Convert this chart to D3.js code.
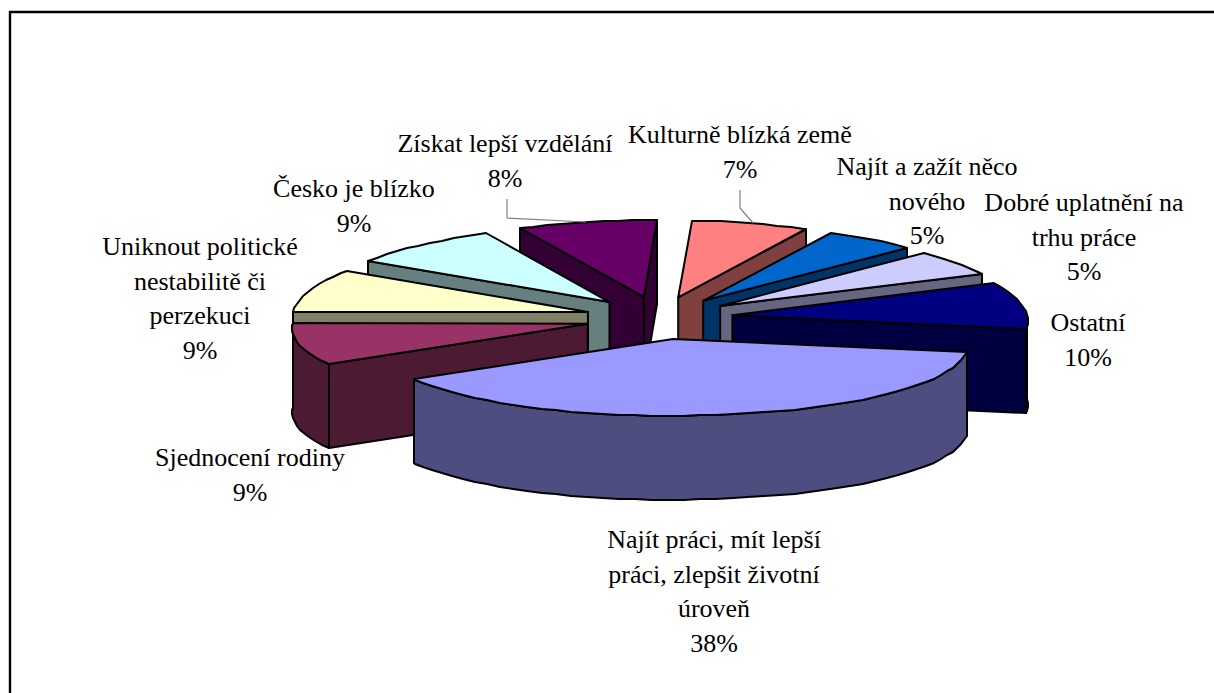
<!DOCTYPE html>
<html>
<head>
<meta charset="utf-8">
<script src="https://cdn.jsdelivr.net/npm/d3@7"></script>
<style>
  html, body { margin: 0; padding: 0; background: #fff; }
  svg { display: block; }
  text { font-family: "Liberation Serif", serif; font-size: 26px; fill: #000; }
</style>
</head>
<body>
<svg id="chart" width="1214" height="693"></svg>
<script>
// clockwise, starting just right of 12 o'clock
const categories = ['Kulturně blízká země', 'Najít a zažít něco nového', 'Dobré uplatnění na trhu práce', 'Ostatní',
  'Najít práci, mít lepší práci, zlepšit životní úroveň', 'Sjednocení rodiny',
  'Uniknout politické nestabilitě či perzekuci', 'Česko je blízko', 'Získat lepší vzdělání'];
// the labels show them rounded
const percents = [6.8, 5.2, 5.4, 9.6, 38.4, 8.9, 8.9, 8.7, 8.1];
const colors = ['#FF8080', '#0066CC', '#CCCCFF', '#000080', '#9999FF', '#993366', '#FFFFCC', '#CCFFFF', '#660066'];
const labelLines = [
  ['Kulturně blízká země'],
  ['Najít a zažít něco', 'nového'],
  ['Dobré uplatnění na', 'trhu práce'],
  ['Ostatní'],
  ['Najít práci, mít lepší', 'práci, zlepšit životní', 'úroveň'],
  ['Sjednocení rodiny'],
  ['Uniknout politické', 'nestabilitě či', 'perzekuci'],
  ['Česko je blízko'],
  ['Získat lepší vzdělání']
];
const labelPos = [[740, 143], [927, 175], [1084, 211], [1088, 331], [714, 548], [250, 466], [200, 255], [354, 197], [505, 152]];

const svg = d3.select('#chart');
const cx = 659, cy = 318, R = 295, tilt = 0.26, depth = 84, explode = 74, explodeTilt = 0.29, perspective = 0.06;
const rad = Math.PI / 180;

// frame of the embedded chart, cut off by the page on the right and bottom
svg.append('path').attr('d', 'M10,700V12H1220').attr('fill', 'none').attr('stroke', '#000').attr('stroke-width', 2.4);

const pie = d3.pie().sort(null).startAngle(2.8 * rad).endAngle(362.8 * rad);
const arcs = pie(percents).map((d, i) => {
  const mid = (d.startAngle + d.endAngle) / 2;
  return {
    i, start: d.startAngle, end: d.endAngle,
    ax: cx + explode * Math.sin(mid),
    ay: cy - explode * explodeTilt * Math.cos(mid)
  };
});

function rimPoint(s, a, dz) {
  const scale = 1 - perspective * Math.cos(a);
  return [Math.round(s.ax + R * scale * Math.sin(a)), Math.round(s.ay - R * tilt * Math.cos(a) + (dz || 0))];
}
function rimPoints(s, a0, a1, dz) {
  const pts = d3.range(a0, a1, 3 * rad).map(a => rimPoint(s, a, dz));
  pts.push(rimPoint(s, a1, dz));
  return pts;
}
const line = d3.line();
function face(g, pts, fill) {
  g.append('path').attr('d', line(pts) + 'Z').attr('fill', fill).attr('stroke', '#000')
    .attr('stroke-width', 2).attr('stroke-linejoin', 'round');
}
function wallColor(c) {
  const o = d3.rgb(c);
  return d3.rgb(o.r / 2, o.g / 2, o.b / 2).formatHex();
}

// back slices first, so the nearer ones cover them
const order = arcs.slice().sort((a, b) => d3.ascending(a.ay, b.ay));
order.forEach(s => {
  const g = svg.append('g');
  const top = colors[s.i], wall = wallColor(top);
  const apex = [s.ax, s.ay], apexB = [s.ax, s.ay + depth];
  if (Math.sin(s.start) < 0) {
    const p = rimPoint(s, s.start);
    face(g, [apex, p, [p[0], p[1] + depth], apexB], wall);
  }
  if (Math.sin(s.end) > 0) {
    const p = rimPoint(s, s.end);
    face(g, [apex, p, [p[0], p[1] + depth], apexB], wall);
  }
  // outer wall only where the rim faces the viewer
  const a0 = Math.max(s.start, 90 * rad), a1 = Math.min(s.end, 270 * rad);
  if (a1 > a0) {
    face(g, rimPoints(s, a0, a1).concat(rimPoints(s, a0, a1, depth).reverse()), wall);
  }
  face(g, [apex].concat(rimPoints(s, s.start, s.end)), top);
});

// leader lines of the two labels that sit away from their slice
const leaderLines = [
  [[507, 199], [507, 218], [586, 222]],
  [[740, 190], [740, 208], [753, 223]]
];
leaderLines.forEach(l => {
  svg.append('path').attr('d', line(l)).attr('fill', 'none').attr('stroke', '#808080').attr('stroke-width', 1.2);
});

labelLines.forEach((lines, i) => {
  const t = svg.append('text').attr('text-anchor', 'middle');
  lines.concat(Math.round(percents[i]) + '%').forEach((l, j) => {
    t.append('tspan').attr('x', labelPos[i][0]).attr('y', labelPos[i][1] + j * 34.5).text(l);
  });
});
</script>
</body>
</html>
